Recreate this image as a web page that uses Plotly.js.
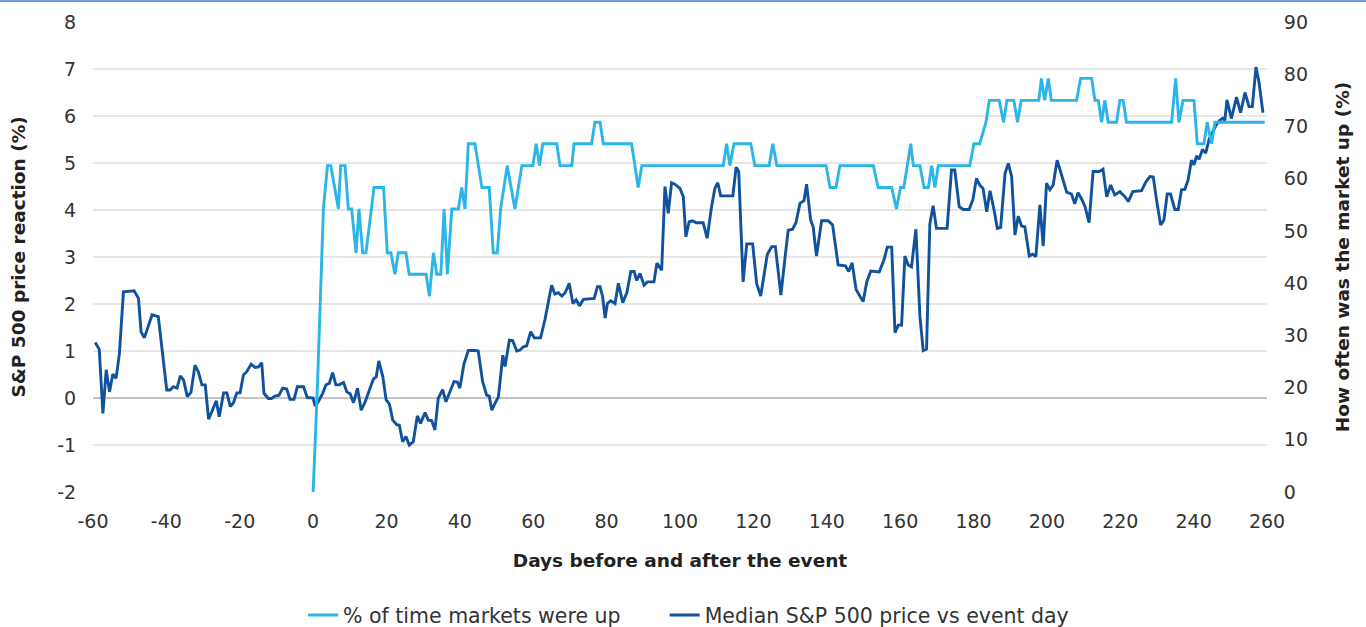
<!DOCTYPE html>
<html>
<head>
<meta charset="utf-8">
<script src="https://cdn.plot.ly/plotly-3.0.1.min.js"></script>
<style>
  html, body { margin: 0; padding: 0; background: #ffffff; }
  #topline { position: absolute; left: 0; top: 0; width: 1366px; height: 2px; background: #6f9ddb; z-index: 5; }
  #chart { width: 1366px; height: 627px; }
</style>
</head>
<body>
<div id="topline"></div>
<div id="chart"></div>
<script>
// ---- Data ----
// Median S&P 500 price vs event day (left axis, %)
const medianDays = [
  -59.4,-58.3,-57.3,-56.4,-55.5,-54.6,-53.7,-52.8,-51.7,-48.8,-47.6,-46.9,-46.0,-43.9,-42.2,
  -39.9,-39.0,-38.1,-37.1,-36.2,-35.3,-34.3,-33.3,-32.2,-31.3,-30.3,-29.4,-28.5,-27.6,-26.4,
  -25.6,-24.4,-23.5,-22.6,-21.7,-20.8,-19.9,-19.0,-18.1,-16.9,-15.8,-14.9,-14.0,-13.4,-12.2,
  -11.3,-10.4,-9.3,-8.3,-7.2,-6.3,-5.2,-4.3,-2.6,-1.6,0.0,0.5,1.4,2.6,3.5,4.4,5.3,6.2,7.1,
  8.3,9.2,10.1,11.0,12.1,13.1,14.2,15.5,16.4,17.2,17.9,19.0,19.9,20.8,21.7,22.8,23.5,24.4,
  25.3,26.2,27.3,28.4,29.3,30.5,31.4,32.3,33.2,34.1,35.3,36.2,37.1,38.4,39.3,40.0,41.1,42.3,
  44.1,45.0,46.2,47.3,48.0,48.7,49.6,50.5,51.7,52.3,53.5,54.4,55.5,56.4,57.3,58.2,59.3,60.3,
  62.0,63.2,65.0,65.9,66.8,67.8,68.7,69.8,70.8,71.7,72.6,73.7,76.6,77.5,78.2,78.9,79.6,80.2,
  81.1,82.3,83.2,84.4,85.5,86.6,87.5,88.2,89.1,90.2,91.1,92.9,93.7,94.3,95.0,95.9,96.8,97.7,
  98.6,100.0,100.9,101.6,102.5,103.5,104.4,106.3,107.4,108.6,109.5,110.3,111.1,114.4,115.3,
  116.0,117.2,118.2,119.8,120.9,122.0,123.8,125.0,126.0,127.5,128.9,129.5,130.7,131.6,132.7,
  133.8,134.5,135.6,136.3,137.2,138.6,140.4,141.6,143.1,145.1,146.0,146.9,148.0,149.9,150.9,
  152.0,154.3,155.6,156.5,157.7,158.6,159.5,160.4,161.3,162.2,163.1,164.3,165.4,166.3,167.2,
  168.1,169.0,169.9,172.8,174.0,174.9,176.1,177.2,178.8,179.8,180.8,181.7,182.6,183.6,184.5,
  185.6,186.5,187.4,188.6,189.5,190.4,191.3,192.2,193.1,194.0,195.2,196.1,197.0,198.1,199.0,
  199.9,200.8,201.7,202.8,204.2,205.4,206.7,207.6,208.5,209.5,210.4,211.5,212.6,214.3,215.3,
  216.3,217.4,218.5,219.9,221.3,222.2,223.4,225.8,227.0,228.1,229.0,229.9,231.0,231.9,232.8,
  233.7,234.9,235.8,236.7,237.6,238.5,239.4,240.1,240.8,241.5,242.4,243.3,244.2,245.1,246.0,
  247.0,247.9,248.5,249.1,250.3,251.7,252.8,254.0,255.1,256.0,257.0,257.8,258.9
];
const medianValues = [
  1.18,1.04,-0.33,0.60,0.13,0.51,0.42,0.95,2.26,2.28,2.12,1.41,1.28,1.77,1.73,
  0.17,0.17,0.24,0.21,0.47,0.38,0.03,0.12,0.70,0.56,0.28,0.28,-0.45,-0.29,-0.06,
  -0.40,0.11,0.11,-0.18,-0.10,0.11,0.11,0.49,0.56,0.72,0.65,0.66,0.75,0.10,-0.01,
  -0.01,0.04,0.06,0.21,0.19,-0.03,-0.03,0.24,0.24,0.01,0.00,-0.17,-0.08,0.10,0.28,0.31,0.54,0.28,0.28,
  0.33,0.13,0.09,-0.10,0.21,-0.26,-0.08,0.22,0.40,0.45,0.79,0.45,-0.04,-0.13,-0.47,-0.57,-0.58,-0.93,
  -0.82,-1.00,-0.93,-0.38,-0.54,-0.31,-0.47,-0.48,-0.68,-0.01,0.18,-0.08,0.10,0.35,0.34,0.21,0.72,1.01,
  1.01,1.00,0.35,0.06,0.04,-0.26,-0.11,0.02,0.91,0.67,1.23,1.22,1.00,1.02,1.09,1.11,1.41,1.28,
  1.28,1.67,2.40,2.21,2.24,2.17,2.24,2.44,2.01,2.09,1.96,2.10,2.12,2.37,2.37,2.16,1.70,2.01,
  2.07,2.01,2.44,2.03,2.24,2.69,2.69,2.50,2.65,2.40,2.47,2.47,2.87,2.79,2.72,4.50,3.93,4.58,
  4.55,4.46,4.28,3.43,3.75,3.77,3.73,3.73,3.40,4.07,4.46,4.58,4.30,4.30,4.91,
  4.82,2.47,3.28,3.28,2.43,2.17,3.06,3.22,3.22,2.19,3.18,3.57,3.59,3.73,4.14,
  4.20,4.55,3.79,3.64,3.02,3.77,3.77,3.68,2.83,2.81,2.69,2.88,2.31,2.05,2.47,
  2.70,2.68,2.94,3.21,3.21,1.39,1.55,1.55,3.02,2.83,2.79,3.59,1.73,1.01,1.04,
  3.70,4.09,3.61,3.61,4.85,4.85,4.07,4.01,4.01,4.21,4.67,4.53,4.46,3.96,4.41,
  4.00,3.61,3.63,4.78,4.99,4.71,3.47,3.87,3.66,3.64,3.02,3.06,3.01,4.11,3.23,
  4.57,4.43,4.53,5.06,4.72,4.38,4.34,4.13,4.37,4.23,4.07,3.73,4.82,4.82,4.87,
  4.28,4.53,4.32,4.39,4.28,4.18,4.39,4.41,4.60,4.71,4.70,4.21,3.68,3.79,4.34,
  4.34,4.01,4.01,4.43,4.44,4.64,5.06,4.96,5.15,5.08,5.29,5.21,5.50,5.64,5.79,
  5.90,5.95,5.91,6.34,5.95,6.40,6.07,6.50,6.20,6.20,7.04,6.73,6.07
];

// % of time markets were up (right axis, %)
const upDays = [
  0.0,1.2,2.8,3.9,4.8,6.9,7.5,8.7,9.6,10.5,11.7,12.5,13.5,14.4,16.6,19.2,20.2,21.2,22.3,23.2,
  25.3,26.2,30.8,31.7,32.8,33.7,34.8,35.7,36.6,37.8,39.6,40.5,41.4,42.3,44.1,46.0,48.0,49.1,
  50.2,51.1,52.9,55.0,56.9,59.9,60.8,61.7,62.6,66.4,67.3,70.5,71.1,75.9,76.8,78.2,79.1,86.8,
  88.6,89.6,111.8,112.7,113.6,114.7,119.3,120.4,124.3,125.3,126.4,139.8,140.9,142.5,143.6,
  152.7,154.0,157.7,159.0,160.1,161.0,162.9,163.6,165.4,166.5,167.7,168.6,169.5,170.4,179.0,
  180.1,181.7,183.4,184.3,187.0,188.2,189.1,191.0,192.0,193.0,197.8,198.5,199.4,200.4,201.2,
  208.1,209.2,212.2,213.1,214.0,214.9,215.8,216.7,219.0,219.9,220.8,221.7,234.0,235.1,236.0,
  237.1,240.1,241.0,242.8,243.7,244.9,245.8,259.4
];
const upValues = [
  0,20.8,54.2,62.5,62.5,54.2,62.5,62.5,54.2,54.2,45.8,54.2,45.8,45.8,58.3,58.3,45.8,45.8,41.7,45.8,
  45.8,41.7,41.7,37.5,45.8,41.7,41.7,54.2,41.7,54.2,54.2,58.3,54.2,66.7,66.7,58.3,58.3,45.8,
  45.8,54.2,62.5,54.2,62.5,62.5,66.7,62.5,66.7,66.7,62.5,62.5,66.7,66.7,70.8,70.8,66.7,66.7,
  58.3,62.5,62.5,66.7,62.5,66.7,66.7,62.5,62.5,66.7,62.5,62.5,58.3,58.3,62.5,
  62.5,58.3,58.3,54.2,58.3,58.3,66.7,62.5,62.5,58.3,58.3,62.5,58.3,62.5,62.5,
  66.7,66.7,70.8,75,75,70.8,75,75,70.8,75,75,79.2,75,79.2,75,
  75,79.2,79.2,75,75,70.8,75,70.8,70.8,75,75,70.8,70.8,79.2,70.8,
  75,75,66.7,66.7,70.8,66.7,70.8,70.8
];

// Axis ticks
const xTickVals = [-60,-40,-20,0,20,40,60,80,100,120,140,160,180,200,220,240,260];
const xTickText = ["-60","-40","-20","0","20","40","60","80","100","120","140","160","180","200","220","240","260"];
const yLeftVals = [-2,-1,0,1,2,3,4,5,6,7,8];
const yLeftText = ["-2","-1","0","1","2","3","4","5","6","7","8"];
const yRightVals = [0,10,20,30,40,50,60,70,80,90];
const yRightText = ["0","10","20","30","40","50","60","70","80","90"];

const LIGHT = '#2bb5e8';
const DARK = '#10529c';
const FONT = '"DejaVu Sans", "Noto Sans", sans-serif';
const GAP = '\u00A0\u00A0\u00A0\u00A0\u00A0\u00A0';

const traces = [
  {
    x: medianDays, y: medianValues, type: 'scatter', mode: 'lines',
    name: 'Median S&P 500 price vs event day', yaxis: 'y',
    line: {color: DARK, width: 2.9}, legendrank: 2
  },
  {
    x: upDays, y: upValues, type: 'scatter', mode: 'lines',
    name: '% of time markets were up' + GAP, yaxis: 'y2',
    line: {color: LIGHT, width: 2.9}, legendrank: 1
  }
];

const layout = {
  width: 1366, height: 627,
  margin: {l: 93, r: 99, t: 22, b: 135, autoexpand: false},
  paper_bgcolor: '#ffffff', plot_bgcolor: '#ffffff',
  font: {family: FONT, color: '#333333', size: 19},
  showlegend: true,
  legend: {
    orientation: 'h', x: 0.1789, xanchor: 'left', y: -0.262, yanchor: 'middle',
    font: {family: FONT, size: 20.5, color: '#333333'}, itemwidth: 30, traceorder: 'normal'
  },
  xaxis: {
    range: [-60, 260], tickvals: xTickVals, ticktext: xTickText, automargin: false,
    showgrid: false, zeroline: false, showline: false,
    ticks: 'outside', ticklen: 12, tickcolor: 'rgba(0,0,0,0)',
    tickfont: {family: FONT, size: 19, color: '#333333'},
    title: {text: '<b>Days before and after the event</b>', font: {family: FONT, size: 18.5, color: '#222222'}, standoff: 23}
  },
  yaxis: {
    range: [-2, 8], tickvals: yLeftVals, ticktext: yLeftText, automargin: false,
    showgrid: true, gridcolor: '#e6e6e6', gridwidth: 1.3,
    zeroline: true, zerolinecolor: '#c4c4c4', zerolinewidth: 1.6, showline: false,
    ticks: 'outside', ticklen: 12, tickcolor: 'rgba(0,0,0,0)',
    tickfont: {family: FONT, size: 19, color: '#333333'},
    title: {text: '<b>S&P 500 price reaction (%)</b>', font: {family: FONT, size: 18.5, color: '#222222'}, standoff: 26}
  },
  yaxis2: {
    range: [0, 90], tickvals: yRightVals, ticktext: yRightText, automargin: false,
    overlaying: 'y', side: 'right',
    showgrid: false, zeroline: false, showline: false,
    ticks: 'outside', ticklen: 12, tickcolor: 'rgba(0,0,0,0)',
    tickfont: {family: FONT, size: 19, color: '#333333'},
    title: {text: '<b>How often was the market up (%)</b>', font: {family: FONT, size: 18.5, color: '#222222'}, standoff: 29}
  }
};

Plotly.newPlot('chart', traces, layout, {displayModeBar: false, staticPlot: true});
</script>
</body>
</html>
